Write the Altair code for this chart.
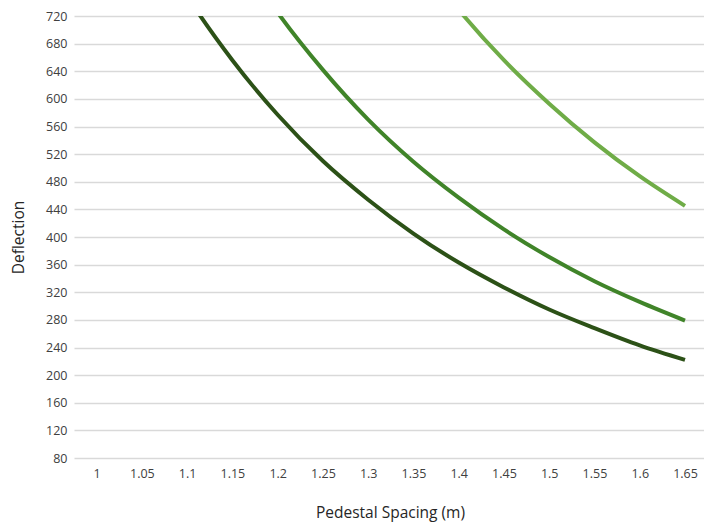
import altair as alt
import pandas as pd

spacing = [1.00, 1.05, 1.10, 1.15, 1.20, 1.25, 1.30, 1.35, 1.40, 1.45, 1.50, 1.55, 1.60, 1.65]
series_a = [997, 861, 749, 656, 577, 510, 454, 405, 363, 327, 295, 268, 243, 222]
series_b = [1253, 1082, 941, 824, 725, 642, 570, 509, 457, 411, 371, 336, 306, 279]
series_c = [2000, 1728, 1503, 1315, 1157, 1024, 910, 813, 729, 656, 593, 537, 488, 445]
series_names = ["A", "B", "C"]
series_colors = ["#2c5117", "#408429", "#6fac47"]
y_ticks = list(range(80, 721, 40))

rows = []
for name, vals in zip(series_names, [series_a, series_b, series_c]):
    for s, v in zip(spacing, vals):
        rows.append({"spacing": s, "deflection": v, "series": name})
df = pd.DataFrame(rows)

font = "Open Sans"
H = 442
W = 630

chart = alt.Chart(df).mark_line(
    strokeWidth=4, interpolate="monotone", clip=True
).encode(
    x=alt.X(
        "spacing:Q",
        scale=alt.Scale(domain=[0.975, 1.671], nice=False, zero=False),
        axis=alt.Axis(
            values=spacing,
            labelExpr="format(datum.value, '.2~f')",
            grid=False, domain=False, ticks=False,
            labelPadding=9, labelFontSize=12.5, labelColor="#404040", labelFont=font,
            title="Pedestal Spacing (m)", titleFont=font, titleFontSize=15.5,
            titleFontWeight="normal", titleColor="#262626",
            titleX=316, titleY=54, titleBaseline="middle",
        ),
    ),
    y=alt.Y(
        "deflection:Q",
        scale=alt.Scale(domain=[80, 720], nice=False, zero=False),
        axis=alt.Axis(
            values=y_ticks,
            grid=True, gridColor="#d9d9d9", gridWidth=1.5,
            domain=False, ticks=False,
            labelPadding=7, labelFontSize=12.5, labelColor="#404040", labelFont=font,
            title="Deflection", titleFont=font, titleFontSize=15.5,
            titleFontWeight="normal", titleColor="#262626",
            titleX=-48, titleY=H / 2, titleAngle=-90, titleBaseline="bottom",
        ),
    ),
    color=alt.Color(
        "series:N",
        scale=alt.Scale(domain=series_names, range=series_colors),
        legend=None,
    ),
).properties(
    width=W, height=H,
    autosize=alt.AutoSizeParams(type="none"),
    padding={"left": 66, "top": 8, "right": 0, "bottom": 64},
).configure_view(stroke=None)

chart.save("out.html", embed_options={"renderer": "svg", "actions": False})
